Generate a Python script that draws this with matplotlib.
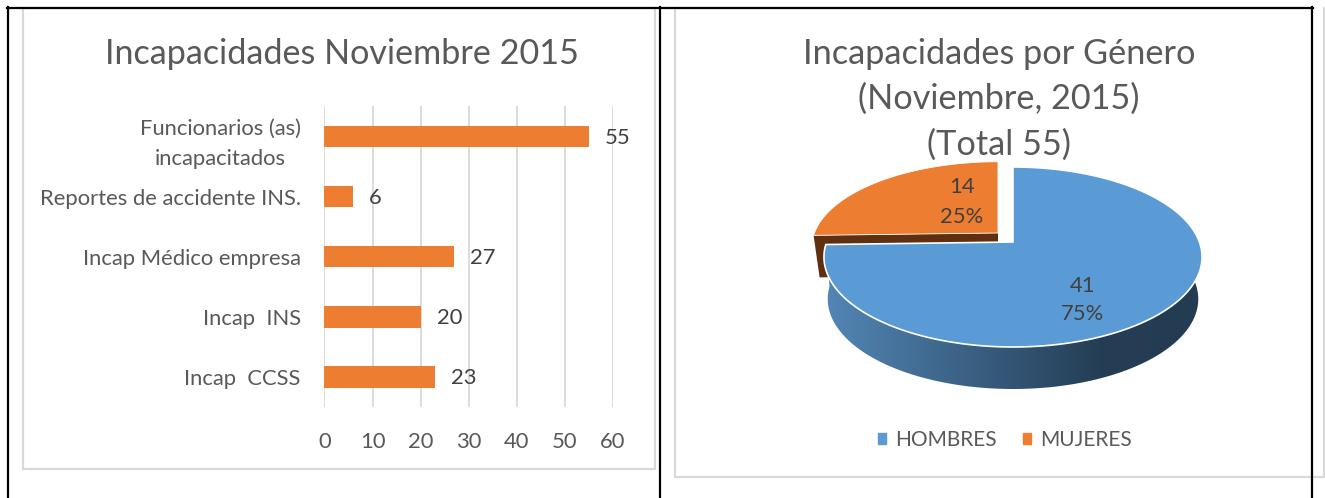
import numpy as np
import matplotlib
matplotlib.use('Agg')
import matplotlib.pyplot as plt
from matplotlib.patches import Patch, Polygon
from matplotlib.colors import LinearSegmentedColormap

plt.rcParams['font.family'] = ['Lato', 'DejaVu Sans']

# Datos
categorias = ['Incap  CCSS', 'Incap  INS', 'Incap Médico empresa',
              'Reportes de accidente INS.', 'Funcionarios (as)\nincapacitados']
valores = [23, 20, 27, 6, 55]
ticks_x = [0, 10, 20, 30, 40, 50, 60]

titulo_barras = 'Incapacidades Noviembre 2015'
titulo_pie = ['Incapacidades por Género', '(Noviembre, 2015)', '(Total 55)']
generos = ['HOMBRES', 'MUJERES']
cantidades = [41, 14]

AZUL = '#5B9BD5'
NARANJA = '#ED7D31'
CAFE = '#5E2F10'
GRIS_TEXTO = '#595959'
OSCURO = '#404040'
GRIS = '#D9D9D9'
LETRA = 15.8

W, H = 1325, 498
fig = plt.figure(figsize=(W / 100, H / 100), dpi=100)

# Eje de fondo en pixeles (marcos, titulos y pie)
fondo = fig.add_axes([0, 0, 1, 1])
fondo.set_xlim(0, W)
fondo.set_ylim(H, 0)
fondo.axis('off')

# Marcos grises de los graficos
fondo.plot([23, 23, 655, 655], [8, 469, 469, 8], color=GRIS, lw=1.6)
fondo.plot([675, 675, 1325], [8, 477, 477], color=GRIS, lw=1.6)
fondo.plot([1324, 1324], [8, 477], color=GRIS, lw=1.6)

# Marco negro de la tabla
for x in [8, 660, 1312]:
    fondo.plot([x, x], [7, H], color='black', lw=1.6, zorder=6)
fondo.plot([7, 1313], [8, 8], color='black', lw=1.6, zorder=6)

# Barras
ax = fig.add_axes([324.4 / W, 1 - 407 / H, (613 - 324.4) / W, (407 - 106.5) / H])
ax.set_facecolor('none')
y = np.arange(len(categorias))
barras = ax.barh(y, valores, height=0.355, color=NARANJA, zorder=3)
ax.set_xlim(0, 60)
ax.set_ylim(-0.5, len(categorias) - 0.5)
ax.set_xticks(ticks_x)
ax.set_yticks(y, categorias, multialignment='center', linespacing=1.64)
ax.grid(axis='x', color=GRIS, lw=1.3, zorder=0)
ax.tick_params(length=0, labelcolor=GRIS_TEXTO, labelsize=LETRA)
ax.tick_params(axis='x', pad=18)
ax.tick_params(axis='y', pad=17)
for lado in ax.spines.values():
    lado.set_visible(False)
for b, v in zip(barras, valores):
    ax.annotate(str(v), (v, b.get_y() + b.get_height() / 2), xytext=(11.5, -1),
                textcoords='offset points', va='center', color=OSCURO, fontsize=LETRA)

fondo.text(342.4, 54, titulo_barras, ha='center', va='center', color=GRIS_TEXTO, fontsize=24.6)

# Titulo del pie
for y_txt, linea in zip([54, 99, 145], titulo_pie):
    fondo.text(999, y_txt, linea, ha='center', va='center', color=GRIS_TEXTO,
               fontsize=24.7, zorder=7)


# Pie en perspectiva: circulo proyectado con una homografia
def proyectar(t, cx=1013.0, cy=242.0, dy=0.0, escala=1.0, esc_y=1.0):
    k = 1 / 6
    w = 1 + k * np.cos(t)
    return np.column_stack([cx + escala * 186.4 * np.sin(t) / w,
                            cy + dy - esc_y * 87.5 * np.cos(t) / w])


total = sum(cantidades)
corte = 2 * np.pi * cantidades[0] / total
t_azul = np.linspace(0, corte, 200)
t_naranja = np.linspace(corte, 2 * np.pi, 80)
PROF = 42

# Gajo naranja separado, con su lado oscuro
cx_n, cy_n = 998.0, 233.0
arco_n = proyectar(t_naranja, cx_n, cy_n, escala=0.985, esc_y=0.95)
sup_n = np.vstack([[cx_n, cy_n], arco_n])
lado_n = np.array([[cx_n, cy_n], arco_n[0], arco_n[0] + [6, PROF], [cx_n, cy_n + PROF]])
fondo.add_patch(Polygon(lado_n, closed=True, fc=CAFE, ec='none', zorder=2))
fondo.add_patch(Polygon(sup_n, closed=True, fc=NARANJA, ec='white', lw=0.6, zorder=3))

# Lado del gajo azul con degradado
t_lado = np.linspace(np.radians(70), corte, 200)
borde_sup = proyectar(t_lado)
borde_inf = proyectar(t_lado, dy=PROF, escala=0.98)
lado_azul = Polygon(np.vstack([borde_sup, borde_inf[::-1]]), closed=True,
                    fc='none', ec='none', transform=fondo.transData)
fondo.add_patch(lado_azul)
cmap = LinearSegmentedColormap.from_list('lado', [(0, '#5286B6'), (0.72, '#253E55'), (1, '#243C52')])
grad = fondo.imshow(np.linspace(0, 1, 256).reshape(1, -1), cmap=cmap, aspect='auto',
                    extent=(825, 1205, 400, 240), zorder=4)
grad.set_clip_path(lado_azul)
fondo.set_xlim(0, W)
fondo.set_ylim(H, 0)

sup_a = np.vstack([[1013.0, 242.0], proyectar(t_azul)])
fondo.add_patch(Polygon(sup_a, closed=True, fc=AZUL, ec='white', lw=1.2, zorder=5))

# Etiquetas del pie
pos_etq = [(1083, 286, 314), (962, 187, 217)]
for (x, y1, y2), n in zip(pos_etq, cantidades):
    fondo.text(x, y1, str(n), ha='center', va='center', color=OSCURO, fontsize=LETRA, zorder=7)
    fondo.text(x, y2, f'{n / total:.0%}', ha='center', va='center', color=OSCURO, fontsize=LETRA, zorder=7)

# Leyenda
fondo.legend(handles=[Patch(color=AZUL, label=generos[0]), Patch(color=NARANJA, label=generos[1])],
             loc='center', bbox_to_anchor=(1005 / W, 1 - 440 / H), bbox_transform=fig.transFigure,
             ncol=2, frameon=False, fontsize=15, labelcolor=GRIS_TEXTO,
             handlelength=0.38, handleheight=0.38, handletextpad=0.43, columnspacing=1.25)

fig.savefig('out.png', dpi=100)
